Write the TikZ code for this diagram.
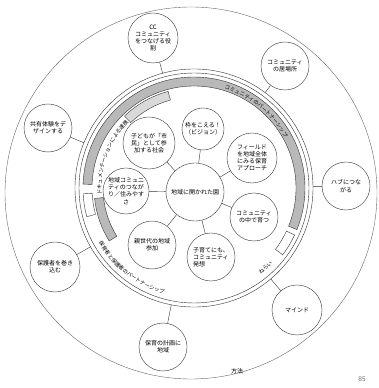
\documentclass[tikz,border=0pt]{standalone}
\usepackage{fontspec}
\newfontfamily\jpfont{Noto Sans CJK JP}
\newfontfamily\bandfont[LetterSpace=10]{Noto Sans CJK JP}
\usetikzlibrary{calc,decorations.text}

\begin{document}
\begin{tikzpicture}[
    x=1pt, y=1pt,
    every node/.style={font=\jpfont\fontsize{6}{7.2}\selectfont},
    topic/.style={
        circle,
        draw=black!80,
        thin,
        fill=white,
        align=center,
        inner sep=0pt
    },
    link/.style={
        draw=black!80,
        thin
    },
    band/.style={
        draw=black!80,
        thin
    },
    bandtext/.style={
        decorate,
        decoration={text along path, text align=center,
            text={|\bandfont\fontsize{5.3}{6}\selectfont|#1}}
    }
]
\useasboundingbox (0,0) rectangle (379,388);

% Kreise und Ring
\coordinate (O) at (194,200);
\draw[link, black!60] (191,195) circle[radius=186];
\draw[link] (O) circle[radius=119];
\draw[link] (O) circle[radius=115];

\foreach \a/\b/\ri/\ro/\c in {178/-22/102/111/gray!55, -25/-37/102/111/white,
    183/195/102/111/white, 105/134/91/100/gray!30, 186/212/91/100/gray!55}
    \filldraw[band, fill=\c] ($(O)+(\a:\ro)$) arc[start angle=\a, end angle=\b, radius=\ro]
        -- ($(O)+(\b:\ri)$) arc[start angle=\b, end angle=\a, radius=\ri] -- cycle;

% Texte am Ring
\path[bandtext={コミュニティのパートナーシップ}] ($(O)+(80:103.5)$) arc[start angle=80, end angle=22, radius=103.5];
\path[bandtext={ドキュメンテーションによる連携}] ($(O)+(186:92.5)$) arc[start angle=186, end angle=133, radius=92.5];
\path[bandtext={保育者と保護者のパートナーシップ}] ($(O)+(200:110)$) arc[start angle=200, end angle=264, radius=110];
\path[bandtext={ねらい}] ($(O)+(-62:109)$) arc[start angle=-62, end angle=-34, radius=109];

% Mitte
\node[topic, minimum size=58pt] (core) at (195,196) {地域に開かれた園};

\node[topic, minimum size=52pt] (shimin) at (149,245) {子どもが「市\\民」として参\\加する社会};
\node[topic, minimum size=42pt] (waku) at (203,259) {枠をこえる！\\（ビジョン）};
\node[topic, minimum size=50pt] (field) at (252,230) {フィールド\\を地域全体\\にみる保育\\アプローチ};
\node[topic, minimum size=48pt] (naka) at (254,171) {コミュニティ\\の中で育つ};
\node[topic, minimum size=48pt, align=left] (kosodate) at (211,131) {子育てにも、\\コミュニティ\\発想};
\node[topic, minimum size=48pt] (oyasedai) at (152,143) {親世代の地域\\参加};
\node[topic, minimum size=46pt] (tsunagari) at (126,197) {地域コミュニ\\ティのつなが\\り／住みやす\\さ};

% Aussen
\node[topic, minimum size=50pt] (cc) at (153,350) {CC\\コミュニティ\\をつなげる役\\割};
\node[topic, minimum size=48pt] (ibasho) at (285,322) {コミュニティ\\の居場所};
\node[topic, minimum size=48pt] (kyoyu) at (48,260) {共有体験をデ\\ザインする};
\node[topic, minimum size=48pt] (hub) at (346,202) {ハブにつな\\がる};
\node[topic, minimum size=50pt] (mind) at (297,78) {マインド};
\node[topic, minimum size=48pt] (keikaku) at (163,41) {保育の計画に\\地域};
\node[topic, minimum size=50pt] (hogosha) at (55,121) {保護者を巻き\\込む};

\node (hoho) at (237,17) {方法};
\node[text=black!60, font=\sffamily\fontsize{7}{8}\selectfont] (page) at (362,9) {85};

% Verbindungen
\foreach \n in {shimin,waku,field,naka,kosodate,oyasedai,tsunagari}
    \draw[link] (core) -- (\n);

\foreach \n in {cc,ibasho,kyoyu,hub,mind,keikaku,hogosha} {
    \coordinate (\n-r) at ($(O)!119pt!(\n)$);
    \draw[link] (\n) -- (\n-r);
}

\end{tikzpicture}
\end{document}
